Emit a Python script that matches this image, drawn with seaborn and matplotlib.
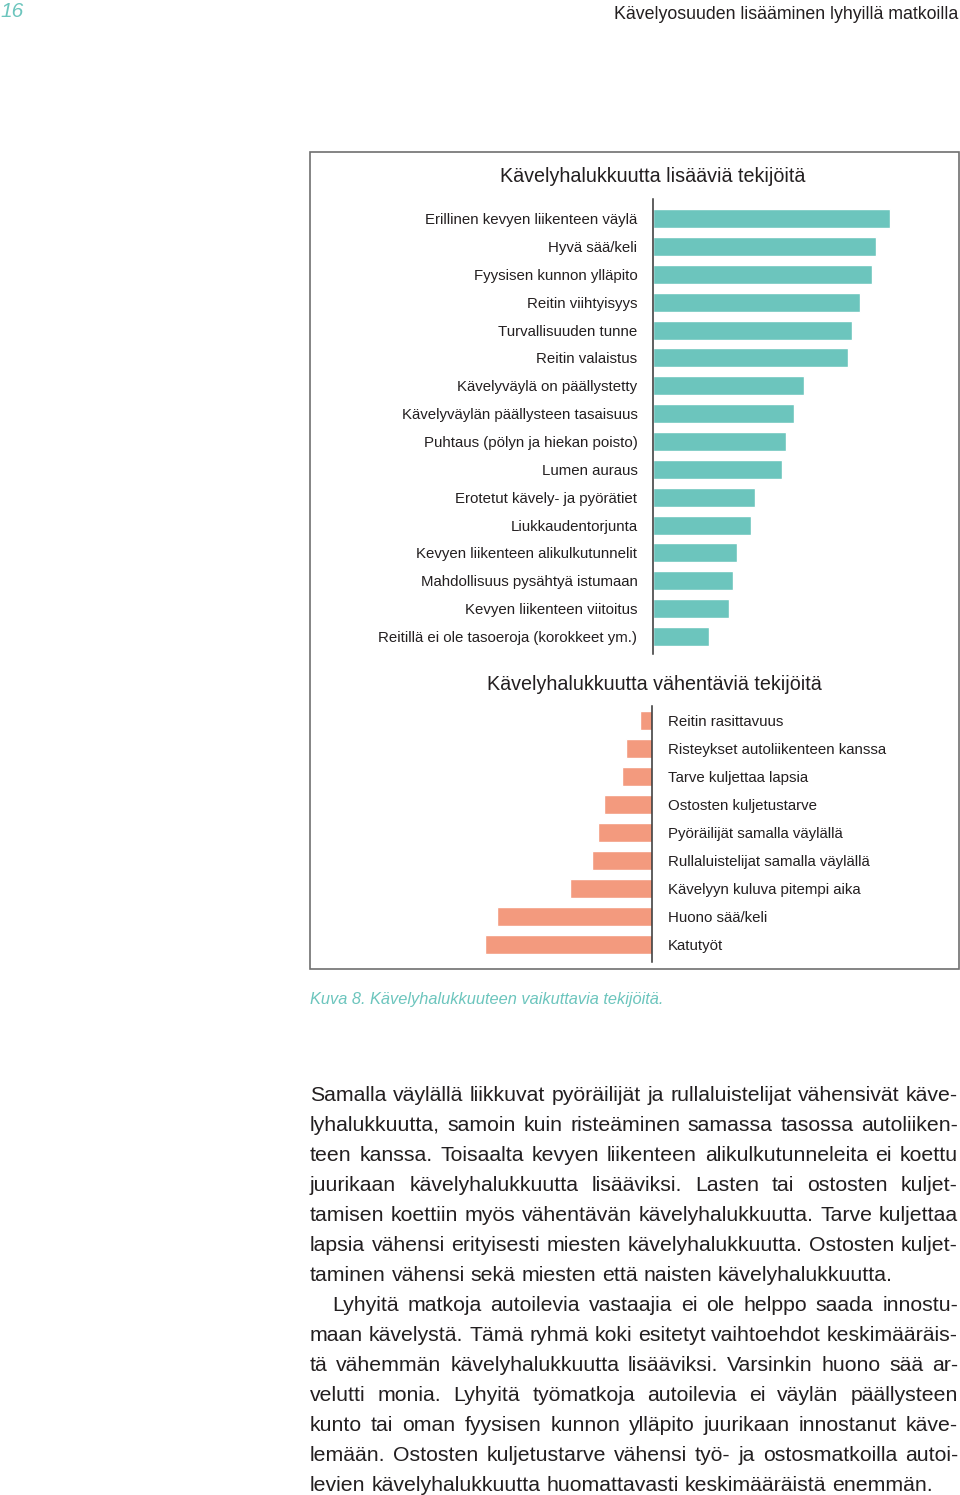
import matplotlib
matplotlib.use("Agg")
from matplotlib import pyplot as plt
from matplotlib.patches import Rectangle
import seaborn as sns

W, H, DPI = 960, 1495, 100

# factors that increase willingness to walk (bar length in chart units)
pos_labels = [
    "Erillinen kevyen liikenteen väylä",
    "Hyvä sää/keli",
    "Fyysisen kunnon ylläpito",
    "Reitin viihtyisyys",
    "Turvallisuuden tunne",
    "Reitin valaistus",
    "Kävelyväylä on päällystetty",
    "Kävelyväylän päällysteen tasaisuus",
    "Puhtaus (pölyn ja hiekan poisto)",
    "Lumen auraus",
    "Erotetut kävely- ja pyörätiet",
    "Liukkaudentorjunta",
    "Kevyen liikenteen alikulkutunnelit",
    "Mahdollisuus pysähtyä istumaan",
    "Kevyen liikenteen viitoitus",
    "Reitillä ei ole tasoeroja (korokkeet ym.)",
]
pos_values = [237, 223, 219, 207, 199, 195, 151, 141, 133, 129, 102, 98, 84, 80, 76, 56]

# factors that decrease willingness to walk
neg_labels = [
    "Reitin rasittavuus",
    "Risteykset autoliikenteen kanssa",
    "Tarve kuljettaa lapsia",
    "Ostosten kuljetustarve",
    "Pyöräilijät samalla väylällä",
    "Rullaluistelijat samalla väylällä",
    "Kävelyyn kuluva pitempi aika",
    "Huono sää/keli",
    "Katutyöt",
]
neg_values = [12, 26, 30, 48, 54, 60, 82, 155, 167]

page_no = "16"
header = "Kävelyosuuden lisääminen lyhyillä matkoilla"
title_pos = "Kävelyhalukkuutta lisääviä tekijöitä"
title_neg = "Kävelyhalukkuutta vähentäviä tekijöitä"
caption = "Kuva 8. Kävelyhalukkuuteen vaikuttavia tekijöitä."

paragraphs = [
    ["Samalla väylällä liikkuvat pyöräilijät ja rullaluistelijat vähensivät käve-",
     "lyhalukkuutta, samoin kuin risteäminen samassa tasossa autoliiken-",
     "teen kanssa. Toisaalta kevyen liikenteen alikulkutunneleita ei koettu",
     "juurikaan kävelyhalukkuutta lisääviksi. Lasten tai ostosten kuljet-",
     "tamisen koettiin myös vähentävän kävelyhalukkuutta. Tarve kuljettaa",
     "lapsia vähensi erityisesti miesten kävelyhalukkuutta. Ostosten kuljet-",
     "taminen vähensi sekä miesten että naisten kävelyhalukkuutta."],
    ["Lyhyitä matkoja autoilevia vastaajia ei ole helppo saada innostu-",
     "maan kävelystä. Tämä ryhmä koki esitetyt vaihtoehdot keskimääräis-",
     "tä vähemmän kävelyhalukkuutta lisääviksi. Varsinkin huono sää ar-",
     "velutti monia. Lyhyitä työmatkoja autoilevia ei väylän päällysteen",
     "kunto tai oman fyysisen kunnon ylläpito juurikaan innostanut käve-",
     "lemään. Ostosten kuljetustarve vähensi työ- ja ostosmatkoilla autoi-",
     "levien kävelyhalukkuutta huomattavasti keskimääräistä enemmän."],
]

TEAL = "#6cc5bd"
SALMON = "#f39a7e"
TEXT = "#231f20"

sns.set_style("white")
plt.rcParams["font.family"] = ["Liberation Sans", "DejaVu Sans"]


def fx(x):
    return x / W


def fy(y):
    return 1 - y / H


fig = plt.figure(figsize=(W / DPI, H / DPI), dpi=DPI)

# frame around the figure
fig.patches.append(Rectangle((fx(310), fy(969)), (958.5 - 310) / W, (969 - 152) / H,
                             transform=fig.transFigure, fill=False,
                             edgecolor="#707070", lw=1.2))

# upper chart
x0, ytop, ybot = 652.7, 199, 654
ax1 = fig.add_axes([fx(x0), fy(ybot), (958 - x0) / W, (ybot - ytop) / H])
sns.barplot(x=pos_values, y=pos_labels, orient="y", color=TEAL, saturation=1,
            width=0.68, ax=ax1)
ax1.set_xlim(0, 958 - x0)
step = 27.87
ax1.set_ylim(15 + 17.5 / step, -19.7 / step)
sns.despine(ax=ax1, top=True, right=True, bottom=True, left=False)
ax1.spines["left"].set_color("#333333")
ax1.spines["left"].set_linewidth(1.1)
ax1.set_xticks([])
ax1.set_xlabel("")
ax1.set_ylabel("")
ax1.tick_params(axis="y", length=0, pad=11, labelsize=10.8, labelcolor=TEXT)
ax1.set_facecolor("none")

# lower chart
x1, ytop2, ybot2 = 652.3, 705.7, 962
ax2 = fig.add_axes([fx(311), fy(ybot2), (x1 - 311) / W, (ybot2 - ytop2) / H])
sns.barplot(x=neg_values, y=neg_labels, orient="y", color=SALMON, saturation=1,
            width=0.68, ax=ax2)
ax2.set_xlim(x1 - 311, 0)
step2 = 27.94
ax2.set_ylim(8 + 17.5 / step2, -15.3 / step2)
sns.despine(ax=ax2, top=True, right=False, bottom=True, left=True)
ax2.spines["right"].set_color("#333333")
ax2.spines["right"].set_linewidth(1.1)
ax2.yaxis.tick_right()
ax2.set_xticks([])
ax2.set_xlabel("")
ax2.set_ylabel("")
ax2.tick_params(axis="y", length=0, pad=11, labelsize=10.8, labelcolor=TEXT)
ax2.set_facecolor("none")

# titles and page texts
fig.text(fx(653), fy(176), title_pos, ha="center", va="center", fontsize=14.2, color=TEXT)
fig.text(fx(654), fy(685), title_neg, ha="center", va="center", fontsize=14.2, color=TEXT)
fig.text(fx(0), fy(17), page_no, ha="left", va="baseline", fontsize=15,
         style="italic", color=TEAL)
fig.text(fx(958), fy(19), header, ha="right", va="baseline", fontsize=12.8, color=TEXT)
fig.text(fx(310), fy(1004), caption, ha="left", va="baseline", fontsize=11.8,
         style="italic", color=TEAL)

# justified body text
renderer = fig.canvas.get_renderer()
body_kw = dict(fontsize=15.3, color=TEXT, va="baseline", ha="left")


def word_width(s):
    t = fig.text(0, 0, s, **body_kw)
    w = t.get_window_extent(renderer).width
    t.remove()
    return w


space_w = word_width("a a") - word_width("aa")
left, right = 310, 958
baseline = 1101
for p_i, para in enumerate(paragraphs):
    for l_i, line in enumerate(para):
        start = left + (22 if (p_i > 0 and l_i == 0) else 0)
        words = line.split(" ")
        widths = [word_width(w) for w in words]
        last = l_i == len(para) - 1
        if last or len(words) < 2:
            gap = space_w
        else:
            gap = (right - start - sum(widths)) / (len(words) - 1)
            gap = max(gap, 0.4 * space_w)
        x = start
        for w, wd in zip(words, widths):
            fig.text(fx(x), fy(baseline), w, **body_kw)
            x += wd + gap
        baseline += 30

fig.savefig("out.png", dpi=DPI)
